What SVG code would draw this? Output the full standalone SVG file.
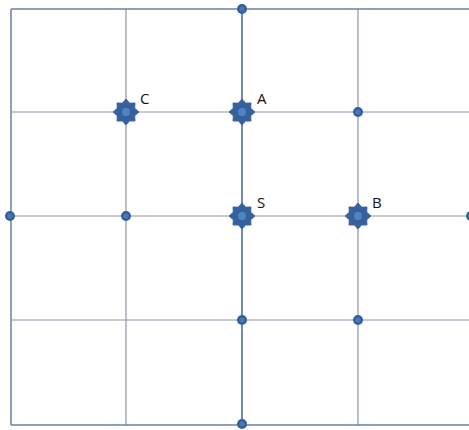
<svg xmlns="http://www.w3.org/2000/svg" width="469" height="430" viewBox="0 0 469 430">
<style>
.g{stroke:#8a93a3;stroke-width:1.2;fill:none}
.ax{stroke:#3f6497;stroke-width:1.5;fill:none}
.brd{stroke:#6d7fa0;stroke-width:1.5;fill:none}
.dot{fill:#34609a}
.dc{fill:#4a78b3}
.star{fill:#36619c;stroke:#36619c;stroke-width:1.2;stroke-linejoin:round}
.lbl{font-family:"Open Sans","Liberation Sans",sans-serif;font-size:15px;fill:#111}
</style>
<defs>
<g id="st">
<polygon points="0,-12.5 3.6,-8.6 8.8,-8.8 8.6,-3.6 12.5,0 8.6,3.6 8.8,8.8 3.6,8.6 0,12.5 -3.6,8.6 -8.8,8.8 -8.6,3.6 -12.5,0 -8.6,-3.6 -8.8,-8.8 -3.6,-8.6" class="star"/>
<circle r="4" fill="#4f84c4"/>
</g>
<g id="dt">
<circle r="5" class="dot"/>
<circle r="2.5" class="dc"/>
</g>
</defs>
<g id="connectors">
<line class="g" x1="126" y1="9" x2="126" y2="425"/>
<line class="g" x1="358" y1="9" x2="358" y2="425"/>
<line class="g" x1="11" y1="112" x2="469" y2="112"/>
<line class="g" x1="11" y1="216" x2="469" y2="216" stroke="#9aaabf"/>
<line class="g" x1="11" y1="320" x2="469" y2="320"/>
<line class="brd" x1="11" y1="9" x2="469" y2="9"/>
<line class="brd" x1="11" y1="9" x2="11" y2="425"/>
<line class="brd" x1="11" y1="425" x2="469" y2="425"/>
<line class="ax" x1="242" y1="9" x2="242" y2="425"/>
</g>
<g id="C"><use href="#st" x="126" y="112"/><text class="lbl" x="140" y="104">C</text></g>
<g id="A"><use href="#st" x="242" y="112"/><text class="lbl" x="257" y="104">A</text></g>
<g id="S"><use href="#st" x="242" y="216"/><text class="lbl" x="257" y="208">S</text></g>
<g id="B"><use href="#st" x="358" y="216"/><text class="lbl" x="372" y="208">B</text></g>
<g id="d1"><use href="#dt" x="242" y="9"/></g>
<g id="d2"><use href="#dt" x="358" y="112"/></g>
<g id="d3"><use href="#dt" x="10" y="216"/></g>
<g id="d4"><use href="#dt" x="126" y="216"/></g>
<g id="d5"><use href="#dt" x="471" y="216"/></g>
<g id="d6"><use href="#dt" x="242" y="320"/></g>
<g id="d7"><use href="#dt" x="358" y="320"/></g>
<g id="d8"><use href="#dt" x="242" y="424"/></g>
</svg>
